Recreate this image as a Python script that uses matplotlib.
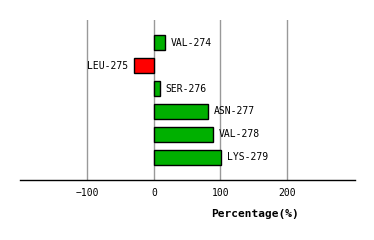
import matplotlib
matplotlib.use('Agg')
from matplotlib import pyplot as plt

residues = ['VAL-274', 'LEU-275', 'SER-276', 'ASN-277', 'VAL-278', 'LYS-279']
values = [17, -30, 9, 81, 89, 101]
ticks = [-100, 0, 100, 200]

plt.rcParams['font.family'] = 'DejaVu Sans Mono'

fig = plt.figure(figsize=(3.74, 2.4), dpi=100)
ax = fig.add_axes([20/374, 60/240, 335/374, 160/240])

colors = ['#00b000' if v >= 0 else '#ff0000' for v in values]
pos = list(range(len(values)))
ax.barh(pos, values, height=0.65, color=colors, edgecolor='black', linewidth=1, zorder=3)

for p, v, name in zip(pos, values, residues):
    if v >= 0:
        ax.annotate(name, (v, p), xytext=(4, 0), textcoords='offset points',
                    ha='left', va='center', fontsize=7)
    else:
        ax.annotate(name, (v, p), xytext=(-4, 0), textcoords='offset points',
                    ha='right', va='center', fontsize=7)

ax.set_xlim(-201, 302)
ax.set_ylim(6, -1)
ax.set_xticks(ticks)
ax.set_xticklabels(['\u2212100', '0', '100', '200'], fontsize=7)
ax.set_yticks([])
ax.tick_params(axis='x', length=0, pad=6)
ax.grid(axis='x', color='#999999', linewidth=1, zorder=0)
for s in ['top', 'right', 'left']:
    ax.spines[s].set_visible(False)
ax.spines['bottom'].set_linewidth(1)

fig.text(255/374, 1 - 214/240, 'Percentage(%)', ha='center', va='center',
         fontsize=8, fontweight='bold')

fig.savefig('out.png', dpi=100)
